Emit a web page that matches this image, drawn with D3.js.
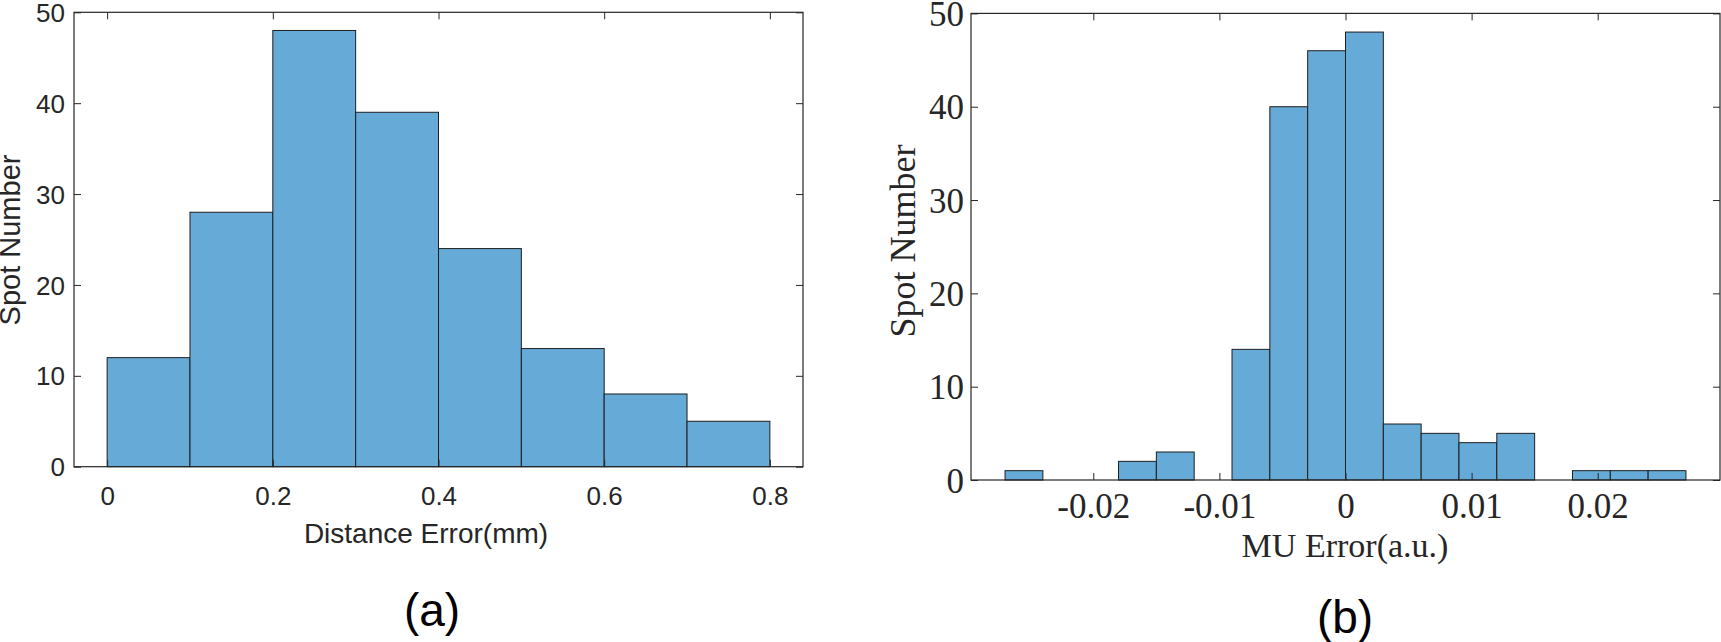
<!DOCTYPE html>
<html>
<head>
<meta charset="utf-8">
<script src="https://cdn.jsdelivr.net/npm/d3@7/dist/d3.min.js"></script>
<style>
  html, body { margin: 0; padding: 0; background: #ffffff; }
  svg { display: block; }
</style>
</head>
<body>
<svg id="chart" width="1721" height="642"></svg>
<script>
// ---------- DATA ----------
// (a) Distance error histogram
const distBinEdges = [0, 0.1, 0.2, 0.3, 0.4, 0.5, 0.6, 0.7, 0.8];
const distCounts = [12, 28, 48, 39, 24, 13, 8, 5];
const distXTicks = [0, 0.2, 0.4, 0.6, 0.8];
const distXTickLabels = ["0", "0.2", "0.4", "0.6", "0.8"];
const yTicks = [0, 10, 20, 30, 40, 50];
const yTickLabels = ["0", "10", "20", "30", "40", "50"];

// (b) MU error histogram
const muBinEdges = [-0.027, -0.024, -0.021, -0.018, -0.015, -0.012, -0.009, -0.006, -0.003, 0,
                    0.003, 0.006, 0.009, 0.012, 0.015, 0.018, 0.021, 0.024, 0.027];
const muCounts = [1, 0, 0, 2, 3, 0, 14, 40, 46, 48, 6, 5, 4, 5, 0, 1, 1, 1];
const muXTicks = [-0.02, -0.01, 0, 0.01, 0.02];
const muXTickLabels = ["-0.02", "-0.01", "0", "0.01", "0.02"];

const xLabelA = "Distance Error(mm)";
const xLabelB = "MU Error(a.u.)";
const yLabel = "Spot Number";
const panelA = "(a)";
const panelB = "(b)";

// ---------- DRAW ----------
const svg = d3.select("#chart");
const barFill = "#66aad7";
const barStroke = "#1e1e1e";
const axisColor = "#262626";

function panel(opts) {
  const x = d3.scaleLinear().domain(opts.xDomain).range([opts.left, opts.right]);
  const y = d3.scaleLinear().domain([0, 50]).range([opts.bottom, opts.top]);
  const g = svg.append("g");

  const bins = opts.counts.map((c, i) => ({ x0: opts.edges[i], x1: opts.edges[i + 1], c }));
  g.selectAll("rect.bar").data(bins.filter(d => d.c > 0)).join("rect")
    .attr("class", "bar")
    .attr("x", d => x(d.x0))
    .attr("y", d => y(d.c))
    .attr("width", d => x(d.x1) - x(d.x0))
    .attr("height", d => y(0) - y(d.c))
    .attr("fill", barFill)
    .attr("stroke", barStroke)
    .attr("stroke-width", 1);

  // box
  g.append("rect")
    .attr("x", opts.left).attr("y", opts.top)
    .attr("width", opts.right - opts.left).attr("height", opts.bottom - opts.top)
    .attr("fill", "none").attr("stroke", axisColor).attr("stroke-width", 1.2);

  const tl = 7;
  // bottom axis
  const xb = g.append("g").attr("transform", `translate(0,${opts.bottom})`)
    .call(d3.axisBottom(x).tickValues(opts.xTicks).tickFormat((d, i) => opts.xTickLabels[i])
      .tickSizeInner(-tl).tickSizeOuter(0));
  xb.select(".domain").remove();
  xb.selectAll(".tick line").attr("stroke", axisColor);
  xb.selectAll("text").attr("dy", null).attr("y", opts.xTickBaseline - opts.bottom)
    .attr("font-family", opts.font).attr("font-size", opts.tickSize).attr("fill", "#262626");
  // top axis
  const xt = g.append("g").attr("transform", `translate(0,${opts.top})`)
    .call(d3.axisTop(x).tickValues(opts.xTicks).tickFormat("").tickSizeInner(-tl).tickSizeOuter(0));
  xt.select(".domain").remove();
  xt.selectAll(".tick line").attr("stroke", axisColor);
  // left axis
  const yl = g.append("g").attr("transform", `translate(${opts.left},0)`)
    .call(d3.axisLeft(y).tickValues(yTicks).tickFormat((d, i) => yTickLabels[i])
      .tickSizeInner(-tl).tickSizeOuter(0));
  yl.select(".domain").remove();
  yl.selectAll(".tick line").attr("stroke", axisColor);
  yl.selectAll("text").attr("x", opts.yTickRight - opts.left).attr("dy", "0.35em")
    .attr("font-family", opts.font).attr("font-size", opts.tickSize).attr("fill", "#262626");
  // right axis
  const yr = g.append("g").attr("transform", `translate(${opts.right},0)`)
    .call(d3.axisRight(y).tickValues(yTicks).tickFormat("").tickSizeInner(-tl).tickSizeOuter(0));
  yr.select(".domain").remove();
  yr.selectAll(".tick line").attr("stroke", axisColor);

  // labels
  g.append("text").attr("x", opts.xLabelX).attr("y", opts.xLabelY)
    .attr("text-anchor", "middle").attr("font-family", opts.font)
    .attr("font-size", opts.labelSize).attr("fill", "#262626").text(opts.xLabel);
  g.append("text")
    .attr("transform", `translate(${opts.yLabelX},${opts.yLabelY}) rotate(-90)`)
    .attr("text-anchor", "middle").attr("font-family", opts.font)
    .attr("font-size", opts.yLabelSize).attr("fill", "#262626").text(yLabel);
  g.append("text").attr("x", opts.panelX).attr("y", opts.panelY)
    .attr("text-anchor", "middle").attr("font-family", "Liberation Sans, Arial, sans-serif")
    .attr("font-size", 46).attr("fill", "#000").text(opts.panel);
}

panel({
  xDomain: [-0.04, 0.84], left: 74, right: 803, top: 12.3, bottom: 466.7,
  edges: distBinEdges, counts: distCounts, xTicks: distXTicks, xTickLabels: distXTickLabels,
  font: "Liberation Sans, Arial, sans-serif", tickSize: 26, labelSize: 28, yLabelSize: 29,
  xTickBaseline: 505, yTickRight: 65,
  xLabel: xLabelA, xLabelX: 426, xLabelY: 543,
  yLabelX: 20, yLabelY: 240,
  panel: panelA, panelX: 432, panelY: 626
});

panel({
  xDomain: [-0.0297, 0.0297], left: 971, right: 1720, top: 13.4, bottom: 480,
  edges: muBinEdges, counts: muCounts, xTicks: muXTicks, xTickLabels: muXTickLabels,
  font: "Liberation Serif, Times New Roman, serif", tickSize: 35, labelSize: 34, yLabelSize: 36,
  xTickBaseline: 518, yTickRight: 964,
  xLabel: xLabelB, xLabelX: 1345, xLabelY: 557,
  yLabelX: 915, yLabelY: 241,
  panel: panelB, panelX: 1345, panelY: 633
});
</script>
</body>
</html>
